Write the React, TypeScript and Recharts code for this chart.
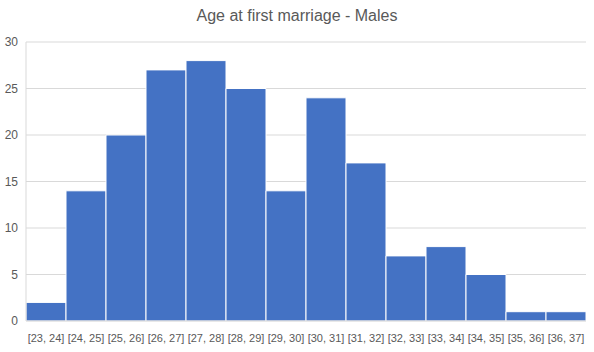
import { BarChart, Bar, XAxis, YAxis, CartesianGrid } from "recharts";

const categories = [
  "[23, 24]", "[24, 25]", "[25, 26]", "[26, 27]", "[27, 28]", "[28, 29]", "[29, 30]",
  "[30, 31]", "[31, 32]", "[32, 33]", "[33, 34]", "[34, 35]", "[35, 36]", "[36, 37]",
];
const counts = [2, 14, 20, 27, 28, 25, 14, 24, 17, 7, 8, 5, 1, 1];
const yTicks = [0, 5, 10, 15, 20, 25, 30];

const data = categories.map((name, i) => ({ name, count: counts[i] }));

const FONT = "'Liberation Sans', Arial, sans-serif";
const TEXT = "#595959";
const GRID = "#d9d9d9";

export default function App() {
  return (
    <div style={{ position: "absolute", left: 0, top: 0, width: 594, height: 352, background: "#fff", fontFamily: FONT }}>
      <div
        style={{
          position: "absolute",
          top: 7,
          left: 0,
          width: 594,
          textAlign: "center",
          fontSize: 16,
          color: TEXT,
        }}
      >
        Age at first marriage - Males
      </div>
      <BarChart
        width={594}
        height={352}
        data={data}
        margin={{ top: 42, right: 8, bottom: 0, left: 0 }}
        barCategoryGap={0}
        barGap={0}
      >
        <CartesianGrid vertical={false} stroke={GRID} />
        <XAxis
          dataKey="name"
          height={31}
          interval={0}
          tickLine={false}
          axisLine={{ stroke: GRID }}
          tick={{ fill: TEXT, fontSize: 11, fontFamily: FONT }}
          tickMargin={7}
        />
        <YAxis
          width={26}
          domain={[0, 30]}
          ticks={yTicks}
          tickLine={false}
          tickSize={0}
          axisLine={{ stroke: GRID }}
          tick={{ fill: TEXT, fontSize: 12, fontFamily: FONT }}
          tickMargin={8}
        />
        <Bar dataKey="count" fill="#4472C4" stroke="#ffffff" strokeWidth={1} isAnimationActive={false} />
      </BarChart>
    </div>
  );
}
